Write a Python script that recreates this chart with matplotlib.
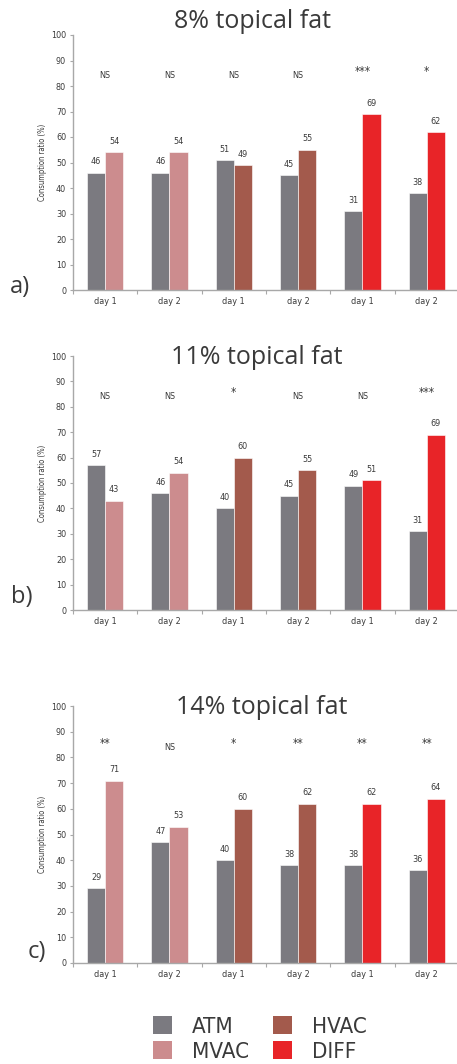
import matplotlib.pyplot as plt
from matplotlib.patches import Patch
from matplotlib.font_manager import FontProperties

# -------------------- DATA --------------------
series_names = ["ATM", "MVAC", "HVAC", "DIFF"]
day_labels = ["day 1", "day 2", "day 1", "day 2", "day 1", "day 2"]
# which treatment is compared with ATM in each group
partner = ["MVAC", "MVAC", "HVAC", "HVAC", "DIFF", "DIFF"]

titles = ["8% topical fat", "11% topical fat", "14% topical fat"]
panel_tags = ["a)", "b)", "c)"]

atm_a = [46, 46, 51, 45, 31, 38]
other_a = [54, 54, 49, 55, 69, 62]
sig_a = ["NS", "NS", "NS", "NS", "***", "*"]

atm_b = [57, 46, 40, 45, 49, 31]
other_b = [43, 54, 60, 55, 51, 69]
sig_b = ["NS", "NS", "*", "NS", "NS", "***"]

atm_c = [29, 47, 40, 38, 38, 36]
other_c = [71, 53, 60, 62, 62, 64]
sig_c = ["**", "NS", "*", "**", "**", "**"]

colors = {"ATM": "#7b7a80", "MVAC": "#cc8c8e", "HVAC": "#a35a4c", "DIFF": "#e82428"}
TXT = "#3a3a3a"
AXC = "#a8a8a8"
TITLEF = ["Open Sans", "DejaVu Sans"]


def narrow(size):
    return FontProperties(family="DejaVu Sans", stretch="condensed", size=size)


W, H = 457, 1064
fig = plt.figure(figsize=(W / 100, H / 100), dpi=100)

# (zero line y px, top line y px, title y px, title x px, tag x px, tag y px)
layout = [
    (290, 35, 22, 253, 20, 287),
    (610, 356, 357, 257, 22, 597),
    (963, 706, 708, 262, 37, 952),
]
panels = [(atm_a, other_a, sig_a), (atm_b, other_b, sig_b), (atm_c, other_c, sig_c)]

left_px, right_px = 73, 459
bw = 0.28

for i, ((atm, other, sig), (y0, y1, ty, tx, gx, gy)) in enumerate(zip(panels, layout)):
    ax = fig.add_axes([left_px / W, (H - y0) / H, (right_px - left_px) / W, (y0 - y1) / H])
    ax.set_xlim(0, 6)
    ax.set_ylim(0, 100)
    centers = [k + 0.5 for k in range(6)]

    for k in range(6):
        ax.bar(centers[k] - bw / 2, atm[k], bw, color=colors["ATM"],
               edgecolor="white", linewidth=0.4)
        ax.bar(centers[k] + bw / 2, other[k], bw, color=colors[partner[k]],
               edgecolor="white", linewidth=0.4)
        ax.text(centers[k] - bw / 2, atm[k] + 2.5, str(atm[k]), ha="center", va="bottom",
                fontproperties=narrow(6.5), color=TXT)
        ax.text(centers[k] + bw / 2, other[k] + 2.5, str(other[k]), ha="center", va="bottom",
                fontproperties=narrow(6.5), color=TXT)
        if sig[k].startswith("*"):
            ax.text(centers[k], 85.5, sig[k], ha="center", va="center",
                    fontproperties=narrow(8.5), color=TXT)
        else:
            ax.text(centers[k], 84, sig[k], ha="center", va="center",
                    fontproperties=narrow(6.5), color=TXT)

    ax.set_yticks(range(0, 101, 10))
    ax.set_yticklabels([str(v) for v in range(0, 101, 10)],
                       fontproperties=narrow(6.5), color=TXT)
    ax.set_xticks(range(0, 7))
    ax.set_xticklabels([])
    ax.set_xticks(centers, minor=True)
    ax.set_xticklabels(day_labels, minor=True, fontproperties=narrow(6.5), color=TXT)
    ax.tick_params(axis="x", which="major", length=3, color=AXC, direction="out")
    ax.tick_params(axis="x", which="minor", length=0, pad=5)
    ax.tick_params(axis="y", length=2, color=AXC, pad=3)
    for s in ["top", "right"]:
        ax.spines[s].set_visible(False)
    for s in ["left", "bottom"]:
        ax.spines[s].set_color(AXC)
        ax.spines[s].set_linewidth(1.0)
    ax.set_ylabel("Consumption ratio (%)", fontproperties=narrow(5.5), color=TXT, labelpad=3)

    fig.text(tx / W, 1 - ty / H, titles[i], ha="center", va="center",
             fontsize=18, color=TXT, family=TITLEF)
    fig.text(gx / W, 1 - gy / H, panel_tags[i], ha="center", va="center",
             fontsize=17, color=TXT, family=TITLEF)

handles = [Patch(facecolor=colors[n], edgecolor="none") for n in series_names]
fig.legend(handles, series_names, loc="center", bbox_to_anchor=(260 / W, 25 / H),
           ncol=2, frameon=False, prop=narrow(16),
           handlelength=0.85, handleheight=0.85, handletextpad=0.9,
           columnspacing=1.1, labelspacing=0.18, labelcolor=TXT)

fig.savefig("out.png", dpi=100)
